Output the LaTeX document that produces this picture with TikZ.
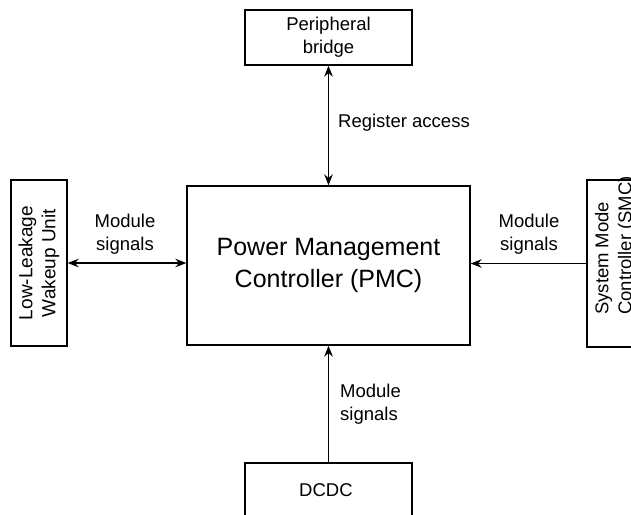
\documentclass[tikz,border=0pt]{standalone}
\usepackage{fontspec}
\setmainfont{Liberation Sans}
\usepackage{tikz}
\usetikzlibrary{arrows.meta}

\begin{document}
\begin{tikzpicture}[x=1pt,y=-1pt,>={Stealth[length=11pt,width=8.5pt]},
  block/.style={draw,line width=1.3pt,align=center,inner sep=0pt,font=\fontsize{18.5}{23}\selectfont},
  lbl/.style={align=center,inner sep=0pt,font=\fontsize{18.5}{23}\selectfont},
  link/.style={line width=1.6pt}]
  \clip (0,0) rectangle (631,514);

  \node at (328.5,265.5) [block,minimum width=283pt,minimum height=159pt,font=\fontsize{25}{32}\selectfont] (pmc) {
    Power Management\\Controller (PMC)
  };

  \node at (328.5,37.5) [block,minimum width=167pt,minimum height=55pt] (bridge) {
    Peripheral\\bridge
  };

  % rotated boxes: their north side faces left, south side faces right
  \node at (39,263) [block,rotate=90,minimum width=166pt,minimum height=56pt,font=\fontsize{19}{23}\selectfont] (llwu) {
    Low-Leakage\\Wakeup Unit
  };

  \node at (615,263.5) [block,rotate=90,minimum width=167pt,minimum height=56pt] (smc) {};
  \node at (615,315) [lbl,rotate=90,anchor=west,align=left] (smctext) {
    System Mode\\Controller (SMC)
  };

  \node at (328.5,490.5) [block,minimum width=167pt,minimum height=55pt] (dcdc) {
    DCDC
  };

  \draw[<->, link] (bridge.south) -- (pmc.north);
  \draw[<->, link] (llwu.south) -- (llwu.south -| pmc.west);
  \draw[->, link] (smc.north) -- (smc.north -| pmc.east);
  \draw[->, link] (dcdc.north) -- (pmc.south);

  \node at (338,123) [lbl,anchor=west] (regacc) {Register access};
  \node at (125,234.5) [lbl] (sigleft) {Module\\signals};
  \node at (529,234.5) [lbl] (sigright) {Module\\signals};
  \node at (340,404) [lbl,anchor=west,align=left] (sigdown) {Module\\signals};
\end{tikzpicture}
\end{document}
